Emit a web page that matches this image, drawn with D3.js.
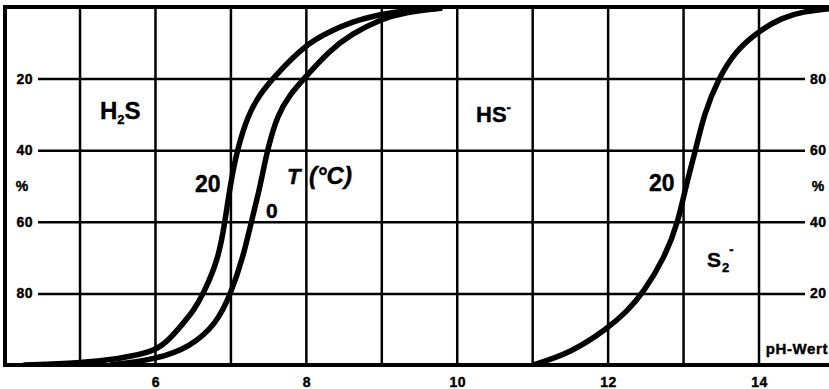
<!DOCTYPE html>
<html lang="de">
<head>
<meta charset="UTF-8">
<title>H2S / HS- / S2- Gleichgewicht</title>
<script src="https://d3js.org/d3.v7.min.js"></script>
<style>
  body { margin: 0; background: #fff; }
  text { font-family: "Liberation Sans", Arial, sans-serif; font-weight: bold; fill: #000;
         stroke: #000; stroke-width: 0.4px; }
</style>
</head>
<body>
<svg id="chart" width="829" height="389"></svg>
<script>
// Kurven: pH-Wert und Anteil in % (von oben gezählt)
const h2s20pH  = [4.25, 5.0, 5.5, 6.0, 6.2, 6.36, 6.5, 6.64, 6.84, 6.92, 6.99, 7.08, 7.23, 7.38, 7.57, 8.0, 8.3, 8.6, 9.0, 9.3, 9.8];
const h2s20Pct = [100, 99.5, 98.3, 96.3, 92.5, 88.5, 85, 80, 70, 60, 50, 40, 30, 24.5, 19.5, 10.3, 7, 4.1, 2, 1, 0.3];

const h2s0pH   = [5.4, 6.0, 6.46, 6.81, 7.0, 7.16, 7.27, 7.39, 7.48, 7.62, 7.78, 7.97, 8.3, 8.6, 9.0, 9.3, 9.8];
const h2s0Pct  = [100, 98.5, 95, 88.5, 80, 70, 60, 50, 40, 30, 24.5, 20, 12.3, 7.5, 3.3, 1.5, 0.3];

const s2pH     = [11.0, 11.5, 12.0, 12.25, 12.46, 12.75, 12.93, 13.03, 13.16, 13.27, 13.46, 13.7, 14.0, 14.3, 14.6, 14.95];
const s2Pct    = [100, 96.7, 89.7, 85, 80, 70, 60, 50, 40, 30, 20, 12, 6.7, 3, 1.2, 0.4];

const gridPH   = [5, 6, 7, 8, 9, 10, 11, 12, 13, 14];
const xTicks   = [6, 8, 10, 12, 14];
const yTicks   = [20, 40, 60, 80];

const svg = d3.select("#chart");
const W = +svg.attr("width");

const x = d3.scaleLinear().domain([4, 14]).range([4.6, 759]);
const y = d3.scaleLinear().domain([0, 100]).range([7, 365]);
const yR = d3.scaleLinear().domain([100, 0]).range([7, 365]);

// Clip für Kurven
svg.append("clipPath").attr("id", "plot")
  .append("rect").attr("x", 5).attr("y", 7).attr("width", W - 5).attr("height", 358);

// senkrechte Gitterlinien
svg.append("g").selectAll("line")
  .data(gridPH).enter().append("line")
  .attr("x1", d => x(d)).attr("x2", d => x(d))
  .attr("y1", 7).attr("y2", 365)
  .attr("stroke", "#000").attr("stroke-width", 2.5);

// linke Achse mit waagerechten Linien
const left = svg.append("g")
  .attr("transform", "translate(38,0)")
  .call(d3.axisLeft(y).tickValues(yTicks).tickSize(-(805 - 38)).tickPadding(5));
left.select(".domain").remove();
left.selectAll("line").attr("stroke", "#000").attr("stroke-width", 2.5);
left.selectAll("text").style("font-size", "14px").style("letter-spacing", "0.5px");

// rechte Achse
const right = svg.append("g")
  .attr("transform", "translate(805,0)")
  .call(d3.axisRight(yR).tickValues(yTicks).tickSize(0).tickPadding(5));
right.select(".domain").remove();
right.selectAll("text").style("font-size", "14px").style("letter-spacing", "0.5px");

// untere Achse
const bottom = svg.append("g")
  .attr("transform", "translate(0,365)")
  .call(d3.axisBottom(x).tickValues(xTicks).tickSize(0).tickPadding(12));
bottom.select(".domain").remove();
bottom.selectAll("text").style("font-size", "14px").style("letter-spacing", "0.5px");

// Rahmen
svg.append("line").attr("x1", 3).attr("x2", W).attr("y1", 7).attr("y2", 7)
  .attr("stroke", "#000").attr("stroke-width", 4);
svg.append("line").attr("x1", 5).attr("x2", 5).attr("y1", 5).attr("y2", 367)
  .attr("stroke", "#000").attr("stroke-width", 4);
svg.append("line").attr("x1", 3).attr("x2", W).attr("y1", 365).attr("y2", 365)
  .attr("stroke", "#000").attr("stroke-width", 4);

// Kurven
const line = d3.line()
  .x(d => x(d[0])).y(d => y(d[1]))
  .curve(d3.curveBasis);

[[h2s20pH, h2s20Pct], [h2s0pH, h2s0Pct], [s2pH, s2Pct]].forEach(([ph, pct]) => {
  svg.append("path")
    .datum(d3.zip(ph, pct))
    .attr("clip-path", "url(#plot)")
    .attr("d", line)
    .attr("fill", "none")
    .attr("stroke", "#000")
    .attr("stroke-width", 5.5);
});

// Beschriftungen
svg.append("text").attr("x", 22).attr("y", 191).attr("text-anchor", "middle")
  .style("font-size", "14px").text("%");
svg.append("text").attr("x", 818).attr("y", 191).attr("text-anchor", "middle")
  .style("font-size", "14px").text("%");
svg.append("text").attr("x", 828).attr("y", 354).attr("text-anchor", "end")
  .style("font-size", "15px").style("letter-spacing", "0.6px").text("pH-Wert");

const h2s = svg.append("text").attr("x", 100).attr("y", 119).style("font-size", "24px");
h2s.append("tspan").text("H");
h2s.append("tspan").attr("dy", 5).style("font-size", "13px").text("2");
h2s.append("tspan").attr("dy", -5).text("S");

const hs = svg.append("text").attr("x", 476).attr("y", 122).style("font-size", "22px");
hs.append("tspan").text("HS");
hs.append("tspan").attr("dy", -10).style("font-size", "13px").text("-");

const s2 = svg.append("text").attr("x", 707).attr("y", 267).style("font-size", "21px");
s2.append("tspan").text("S");
s2.append("tspan").attr("dy", 5).attr("dx", 1).style("font-size", "13px").text("2");
s2.append("tspan").attr("dy", -18).style("font-size", "13px").text("-");

svg.append("text").attr("x", 195).attr("y", 192).style("font-size", "23px").text("20");
svg.append("text").attr("x", 649).attr("y", 191).style("font-size", "23px").text("20");
svg.append("text").attr("x", 266).attr("y", 218).style("font-size", "21px").text("0");

const t = svg.append("text").attr("x", 287).attr("y", 184)
  .style("font-size", "22px").style("font-style", "italic");
t.append("tspan").text("T");
t.append("tspan").attr("x", 309).style("font-size", "24px").text("(°C)");
</script>
</body>
</html>
